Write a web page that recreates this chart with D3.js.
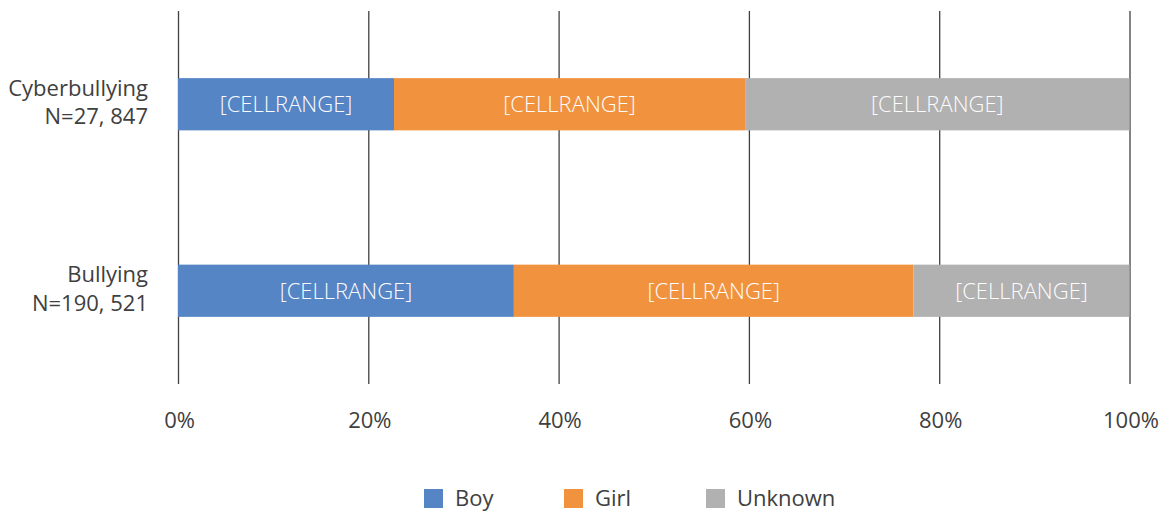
<!DOCTYPE html>
<html>
<head>
<meta charset="utf-8">
<script src="https://cdn.jsdelivr.net/npm/d3@7"></script>
<style>
  body { margin: 0; background: #fff; }
  text { font-family: "Open Sans", "Noto Sans", sans-serif; }
</style>
</head>
<body>
<svg id="chart" width="1159" height="513"></svg>
<script>
// data
const categories = ['Cyberbullying', 'Bullying']
const categoryN = ['N=27, 847', 'N=190, 521']
const seriesNames = ['Boy', 'Girl', 'Unknown']
const boy = [22.7, 35.3]
const girl = [36.9, 42.0]
const unknown = [40.4, 22.7]
const barLabel = '[CELLRANGE]'
const tickValues = [0, 20, 40, 60, 80, 100]

const colors = ['#5585c5', '#f0923e', '#b1b1b1']
const textColor = '#404040'

const svg = d3.select('#chart')

let x = d3.scaleLinear().domain([0, 100]).range([178, 1129.5])
let y = d3.scaleBand().domain(categories).range([11, 384]).paddingInner(0.72).paddingOuter(0.36)

// stacked table
let rows = categories.map((c, i) => ({cat: c, Boy: boy[i], Girl: girl[i], Unknown: unknown[i]}))
let stack = d3.stack().keys(seriesNames)(rows)

// gridlines
let grid = d3.axisBottom(x).tickValues(tickValues).tickSize(-(384 - 11)).tickFormat('')
svg.append('g')
  .attr('transform', 'translate(0,384)')
  .call(grid)
  .call(g => g.select('.domain').remove())
  .call(g => g.selectAll('line').attr('stroke', '#404040').attr('stroke-width', 1.3))

// tick labels
let axis = d3.axisBottom(x).tickValues(tickValues).tickSize(0).tickPadding(0).tickFormat(d => d + '%')
svg.append('g')
  .attr('transform', 'translate(1,428)')
  .call(axis)
  .call(g => g.select('.domain').remove())
  .call(g => g.selectAll('text')
    .attr('dy', 0)
    .attr('fill', textColor)
    .style('font-size', '22px')
    .style('font-family', '"Open Sans", "Noto Sans", sans-serif'))

// bars
let layers = svg.append('g').selectAll('g')
  .data(stack)
  .join('g')
  .attr('fill', (d, i) => colors[i])

layers.selectAll('rect')
  .data(d => d)
  .join('rect')
  .attr('x', d => x(d[0]))
  .attr('y', d => y(d.data.cat))
  .attr('width', d => x(d[1]) - x(d[0]))
  .attr('height', y.bandwidth())

// bar labels
layers.selectAll('text')
  .data(d => d)
  .join('text')
  .attr('x', d => (x(d[0]) + x(d[1])) / 2)
  .attr('y', d => y(d.data.cat) + y.bandwidth() / 2)
  .attr('dy', '0.36em')
  .attr('text-anchor', 'middle')
  .attr('fill', '#fdfdfd')
  .style('font-size', '22px')
  .style('font-weight', 300)
  .text(barLabel)

// category labels
let catLabels = svg.append('g').selectAll('text')
  .data(categories)
  .join('text')
  .attr('text-anchor', 'end')
  .attr('fill', textColor)
  .style('font-size', '22px')
  .attr('y', d => y(d) + y.bandwidth() / 2)

catLabels.append('tspan')
  .attr('x', 148)
  .attr('dy', '-0.38em')
  .text(d => d)
catLabels.append('tspan')
  .attr('x', 148)
  .attr('dy', '1.3em')
  .text((d, i) => categoryN[i])

// legend
const legendX = [424, 564, 706]
let legend = svg.append('g').selectAll('g')
  .data(seriesNames)
  .join('g')
  .attr('transform', (d, i) => `translate(${legendX[i]},489)`)

legend.append('rect')
  .attr('width', 19)
  .attr('height', 19)
  .attr('fill', (d, i) => colors[i])

legend.append('text')
  .attr('x', 31)
  .attr('y', 17)
  .attr('fill', textColor)
  .style('font-size', '22px')
  .text(d => d)
</script>
</body>
</html>
